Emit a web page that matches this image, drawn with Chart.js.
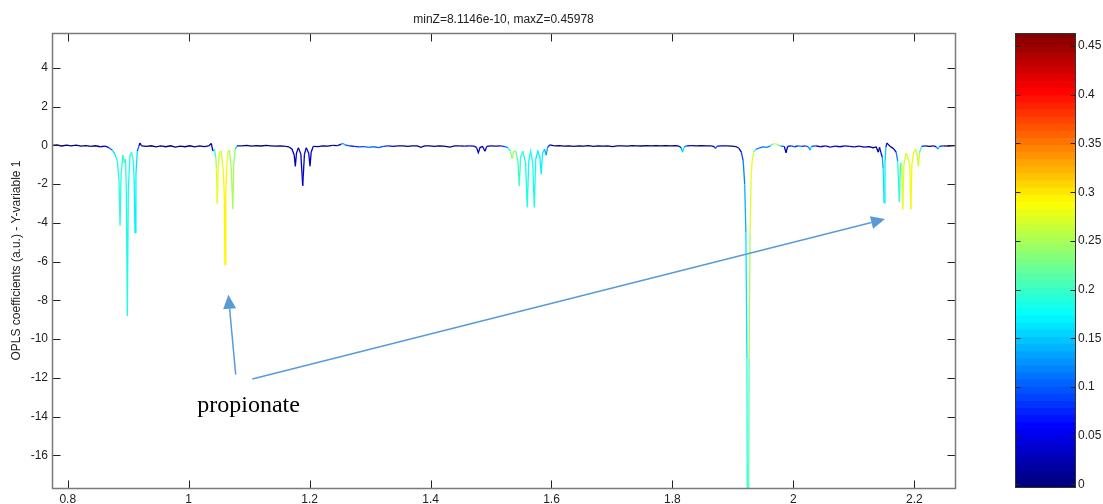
<!DOCTYPE html>
<html>
<head>
<meta charset="utf-8">
<script src="https://cdn.jsdelivr.net/npm/chart.js@4.4.1/dist/chart.umd.min.js"></script>
<style>
  html, body { margin: 0; padding: 0; background: #fff; }
  #wrap { position: relative; width: 1103px; height: 504px; overflow: hidden; }
  #main { position: absolute; left: 0; top: 0; }
  #cbar { position: absolute; left: 1007px; top: 0; }
</style>
</head>
<body>
<div id="wrap">
  <canvas id="main" width="1007" height="504"></canvas>
  <canvas id="cbar" width="96" height="504"></canvas>
</div>
<script>
// ======================================================
// Data
// ======================================================

// chemical shift (ppm)
const ppm = [
    0.774, 0.782, 0.790, 0.798, 0.806, 0.814, 0.822, 0.830, 0.838, 0.846, 0.854, 0.862, 0.868, 0.874, 0.878,
    0.882, 0.8848, 0.8865, 0.8882, 0.891, 0.8935, 0.8955, 0.897, 0.8986, 0.9002, 0.903, 0.9055, 0.908, 0.9098, 0.9113, 0.9128, 0.915, 0.9175, 0.9196, 0.922,
    0.930, 0.938, 0.946, 0.954, 0.962, 0.970, 0.978, 0.986, 0.994, 1.002, 1.010, 1.018, 1.026, 1.033, 1.0375,
    1.040, 1.0425, 1.0448, 1.046, 1.0474, 1.0488, 1.051, 1.0538, 1.0575, 1.0588, 1.0601, 1.0614, 1.0628, 1.065, 1.0675, 1.0705, 1.0729, 1.0745, 1.077, 1.080,
    1.088, 1.096, 1.104, 1.112, 1.120, 1.128, 1.136, 1.144, 1.152, 1.160, 1.166,
    1.171, 1.1745, 1.1764, 1.1783, 1.1815, 1.1855, 1.1886, 1.1915, 1.1945, 1.1985, 1.2007, 1.2026, 1.206,
    1.214, 1.222, 1.230, 1.238, 1.246, 1.2525, 1.2555, 1.259, 1.266, 1.274, 1.282, 1.290, 1.298, 1.306, 1.314, 1.322, 1.330, 1.338, 1.346,
    1.354, 1.362, 1.370, 1.378, 1.384, 1.390, 1.398, 1.406, 1.414, 1.422, 1.432, 1.440, 1.448, 1.456, 1.464, 1.472, 1.476, 1.479, 1.482, 1.486, 1.490, 1.493, 1.500, 1.508, 1.516, 1.523,
    1.528, 1.532, 1.5351, 1.5375, 1.541, 1.5445, 1.5467, 1.549, 1.5525, 1.5572, 1.5599, 1.5625, 1.5655, 1.569, 1.5715, 1.574, 1.5775, 1.5808, 1.583, 1.5852, 1.5885, 1.5913, 1.5935, 1.597,
    1.605, 1.613, 1.621, 1.629, 1.637, 1.645, 1.653, 1.661, 1.669, 1.677, 1.685, 1.693, 1.701, 1.709, 1.717, 1.725, 1.733, 1.741, 1.749, 1.757, 1.765, 1.773, 1.781, 1.789, 1.797, 1.805,
    1.811, 1.8145, 1.817, 1.8195, 1.824, 1.832, 1.840, 1.848, 1.856, 1.864, 1.869, 1.8714, 1.874, 1.882, 1.890, 1.898, 1.905,
    1.910, 1.914, 1.917, 1.9195, 1.9215, 1.9232, 1.925, 1.9268, 1.9285, 1.930, 1.9318, 1.9345,
    1.938, 1.944, 1.950, 1.956, 1.962, 1.966, 1.970, 1.974, 1.979, 1.985, 1.9879, 1.9905, 1.996, 2.002, 2.008, 2.014, 2.020, 2.025, 2.0276, 2.030,
    2.037, 2.045, 2.053, 2.061, 2.069, 2.077, 2.085, 2.093, 2.101, 2.109, 2.117, 2.125, 2.132, 2.137, 2.1405, 2.1425, 2.1445,
    2.147, 2.1485, 2.150, 2.1515, 2.153, 2.1545, 2.160, 2.166, 2.170, 2.1725, 2.1753, 2.1772, 2.1792, 2.1809, 2.1828, 2.186, 2.188, 2.1925, 2.1942, 2.196, 2.199, 2.202, 2.2048, 2.2068, 2.2088, 2.212,
    2.218, 2.225, 2.232, 2.2365, 2.2389, 2.2415, 2.248, 2.256, 2.2673
];

// OPLS coefficient
const coef = [
    0.00, 0.02, -0.03, 0.01, -0.02, 0.01, -0.04, -0.01, -0.05, -0.02, -0.07, -0.04, -0.12, -0.25, -0.45,
    -0.8, -1.8, -4.15, -1.6, -0.5, -0.9, -0.7, -2.4, -8.8, -2.3, -0.5, -0.35, -0.7, -1.7, -4.5, -1.5, -0.3, -0.05, 0.12, -0.02,
    -0.05, -0.02, -0.08, -0.03, -0.07, -0.02, -0.09, -0.04, -0.07, -0.02, -0.08, -0.03, -0.06, -0.03, 0.10,
    -0.3, -0.2, -0.6, -1.2, -3.0, -1.1, -0.35, -0.3, -1.4, -2.5, -6.15, -2.4, -1.2, -0.3, -0.25, -1.2, -3.3, -1.0, -0.2, -0.02,
    -0.03, 0.00, -0.04, -0.01, -0.03, 0.00, -0.02, -0.04, -0.02, -0.05, -0.08,
    -0.2, -0.5, -1.08, -0.4, -0.12, -0.45, -2.08, -0.45, -0.12, -0.4, -1.08, -0.35, -0.05,
    -0.06, -0.02, -0.04, 0.00, -0.01, 0.07, 0.10, 0.02, -0.03, -0.05, -0.08, -0.06, -0.10, -0.07, -0.11, -0.05, -0.03, -0.05, -0.02,
    -0.03, -0.05, -0.02, -0.03, -0.10, -0.02, -0.03, -0.05, -0.02, -0.04, -0.09, -0.03, -0.02, -0.04, -0.02, -0.04, -0.10, -0.38, -0.10, -0.06, -0.30, -0.05, -0.02, -0.04, -0.03, -0.06,
    -0.12, -0.3, -0.7, -0.3, -0.3, -0.8, -2.1, -0.6, -0.3, -0.9, -3.2, -0.8, -0.3, -0.9, -3.2, -0.7, -0.3, -0.6, -1.5, -0.4, -0.2, -0.5, -0.12, 0.03,
    -0.02, -0.01, -0.04, -0.02, -0.05, -0.02, -0.04, -0.01, -0.05, -0.02, -0.04, -0.02, -0.06, -0.03, -0.02, -0.04, -0.01, -0.02, -0.03, -0.01, -0.02, -0.01, -0.02, -0.01, -0.02, -0.01,
    -0.04, -0.12, -0.35, -0.08, -0.02, -0.01, -0.02, -0.01, -0.02, -0.03, -0.06, -0.15, -0.04, -0.02, -0.03, -0.04, -0.06,
    -0.15, -0.35, -0.8, -2.0, -4.5, -11, -32, -11, -4.5, -1.8, -0.8, -0.35,
    -0.2, -0.13, -0.08, -0.1, -0.02, 0.07, 0.09, 0.03, -0.04, -0.05, -0.38, -0.05, -0.02, -0.07, -0.03, -0.05, -0.02, -0.08, -0.25, -0.05,
    -0.03, -0.07, -0.03, -0.09, -0.04, -0.07, -0.02, -0.05, -0.08, -0.04, -0.09, -0.06, -0.12, -0.08, -0.35, -0.10, -0.35,
    -0.6, -1.2, -2.97, -0.9, -0.1, 0.12, -0.05, -0.18, -0.35, -0.8, -2.9, -0.9, -1.0, -3.3, -1.0, -0.4, -0.5, -1.0, -3.3, -1.0, -0.35, -0.2, -0.5, -1.08, -0.35, -0.05,
    -0.02, -0.05, -0.02, -0.08, -0.2, -0.05, -0.02, -0.04, -0.01
];

// correlation (Z, colour of the line)
const corr = [
    0.00, 0.00, 0.00, 0.00, 0.00, 0.00, 0.00, 0.00, 0.01, 0.01, 0.02, 0.04, 0.10, 0.15, 0.17,
    0.18, 0.19, 0.19, 0.19, 0.20, 0.21, 0.19, 0.18, 0.18, 0.18, 0.19, 0.20, 0.18, 0.17, 0.17, 0.16, 0.10, 0.04, 0.01, 0.00,
    0.00, 0.00, 0.00, 0.00, 0.00, 0.00, 0.00, 0.00, 0.00, 0.00, 0.00, 0.00, 0.00, 0.01, 0.02,
    0.14, 0.20, 0.25, 0.27, 0.28, 0.27, 0.26, 0.27, 0.29, 0.29, 0.29, 0.29, 0.28, 0.26, 0.25, 0.25, 0.25, 0.24, 0.15, 0.04,
    0.00, 0.00, 0.00, 0.00, 0.00, 0.00, 0.00, 0.00, 0.00, 0.01, 0.02,
    0.02, 0.03, 0.03, 0.03, 0.02, 0.03, 0.035, 0.03, 0.02, 0.03, 0.03, 0.02, 0.01,
    0.00, 0.00, 0.00, 0.01, 0.04, 0.12, 0.14, 0.10, 0.05, 0.07, 0.09, 0.10, 0.11, 0.10, 0.09, 0.08, 0.05, 0.02, 0.00,
    0.00, 0.00, 0.00, 0.00, 0.00, 0.00, 0.00, 0.00, 0.00, 0.00, 0.00, 0.00, 0.01, 0.03, 0.05, 0.03, 0.02, 0.02, 0.02, 0.02, 0.03, 0.02, 0.01, 0.03, 0.08, 0.12,
    0.18, 0.23, 0.25, 0.23, 0.21, 0.20, 0.20, 0.19, 0.18, 0.18, 0.18, 0.18, 0.18, 0.18, 0.18, 0.17, 0.17, 0.17, 0.17, 0.16, 0.14, 0.13, 0.08, 0.01,
    0.00, 0.00, 0.00, 0.00, 0.00, 0.00, 0.00, 0.00, 0.00, 0.00, 0.00, 0.00, 0.00, 0.00, 0.00, 0.00, 0.00, 0.00, 0.00, 0.00, 0.00, 0.00, 0.00, 0.00, 0.00, 0.00,
    0.05, 0.13, 0.17, 0.12, 0.04, 0.00, 0.00, 0.00, 0.00, 0.01, 0.06, 0.10, 0.05, 0.01, 0.00, 0.00, 0.01,
    0.04, 0.09, 0.12, 0.14, 0.16, 0.19, 0.21, 0.25, 0.27, 0.28, 0.27, 0.20,
    0.12, 0.10, 0.11, 0.12, 0.18, 0.26, 0.28, 0.20, 0.10, 0.03, 0.02, 0.04, 0.10, 0.07, 0.11, 0.07, 0.10, 0.12, 0.15, 0.09,
    0.04, 0.02, 0.03, 0.05, 0.03, 0.02, 0.04, 0.03, 0.01, 0.03, 0.01, 0.01, 0.01, 0.01, 0.02, 0.03, 0.05,
    0.13, 0.16, 0.17, 0.15, 0.07, 0.01, 0.01, 0.03, 0.12, 0.18, 0.20, 0.22, 0.26, 0.28, 0.27, 0.26, 0.27, 0.28, 0.29, 0.28, 0.27, 0.26, 0.26, 0.26, 0.20, 0.07,
    0.01, 0.01, 0.05, 0.12, 0.15, 0.07, 0.00, 0.00, 0.00
];

const xTicks = [0.8, 1, 1.2, 1.4, 1.6, 1.8, 2, 2.2];
const yTicks = [-16, -14, -12, -10, -8, -6, -4, -2, 0, 2, 4];
const zTicks = [0, 0.05, 0.1, 0.15, 0.2, 0.25, 0.3, 0.35, 0.4, 0.45];

const minZ = 8.1146e-10;
const maxZ = 0.45978;

// annotation (data coordinates)
const noteText = "propionate";
const notePos = [1.0143, -13.74];
const noteArrows = [
    [[1.0778, -11.83], [1.0656, -7.71]],
    [[1.1053, -12.06], [2.1516, -3.80]]
];


// ======================================================
// Jet colormap (64 levels)
// ======================================================

const nColors = 64;

function jet(t) {
    const c = v => Math.round(255 * Math.max(0, Math.min(1, v)));
    return "rgb(" + c(1.5 - Math.abs(4 * t - 3)) + "," +
        c(1.5 - Math.abs(4 * t - 2)) + "," +
        c(1.5 - Math.abs(4 * t - 1)) + ")";
}

function colorFor(z) {
    let i = Math.round(z / maxZ * (nColors - 1));
    i = Math.max(0, Math.min(nColors - 1, i));
    return jet(i / (nColors - 1));
}


Chart.defaults.font.family = '"Liberation Sans", Arial, sans-serif';
Chart.defaults.font.size = 12;
Chart.defaults.color = "#222";


// ======================================================
// Frame + inward ticks (MATLAB style)
// ======================================================

const framePlugin = {
    id: "frame",
    afterDraw(chart) {
        const { ctx, chartArea: a } = chart;
        const x = chart.scales.x;
        const y = chart.scales.y;
        const L = Math.round(a.left) + 0.5, R = Math.round(a.right) + 0.5;
        const T = Math.round(a.top) + 0.5, B = Math.round(a.bottom) + 0.5;
        const tl = 8;

        ctx.save();
        ctx.strokeStyle = "#222";
        ctx.lineWidth = 1;
        ctx.beginPath();
        xTicks.forEach(v => {
            const px = Math.round(x.getPixelForValue(v)) + 0.5;
            ctx.moveTo(px, B); ctx.lineTo(px, B - tl);
            ctx.moveTo(px, T); ctx.lineTo(px, T + tl);
        });
        yTicks.forEach(v => {
            const py = Math.round(y.getPixelForValue(v)) + 0.5;
            ctx.moveTo(L, py); ctx.lineTo(L + tl, py);
            ctx.moveTo(R, py); ctx.lineTo(R - tl, py);
        });
        ctx.stroke();

        ctx.strokeStyle = "#7a7a7a";
        ctx.lineWidth = 1.5;
        ctx.strokeRect(L, T, R - L, B - T);
        ctx.restore();
    }
};


// ======================================================
// Annotation (arrows + label)
// ======================================================

const notePlugin = {
    id: "note",
    afterDraw(chart) {
        const { ctx } = chart;
        const x = chart.scales.x;
        const y = chart.scales.y;
        const px = p => [x.getPixelForValue(p[0]), y.getPixelForValue(p[1])];

        ctx.save();
        ctx.strokeStyle = "#5b9bd5";
        ctx.fillStyle = "#5b9bd5";
        ctx.lineWidth = 1.5;

        noteArrows.forEach(arrow => {
            const [x0, y0] = px(arrow[0]);
            const [x1, y1] = px(arrow[1]);
            const ang = Math.atan2(y1 - y0, x1 - x0);
            const len = 14, half = 6.5;
            const bx = x1 - len * Math.cos(ang), by = y1 - len * Math.sin(ang);

            ctx.beginPath();
            ctx.moveTo(x0, y0);
            ctx.lineTo(bx, by);
            ctx.stroke();

            ctx.beginPath();
            ctx.moveTo(x1, y1);
            ctx.lineTo(bx + half * Math.sin(ang), by - half * Math.cos(ang));
            ctx.lineTo(bx - half * Math.sin(ang), by + half * Math.cos(ang));
            ctx.closePath();
            ctx.fill();
        });

        const [tx, ty] = px(notePos);
        ctx.fillStyle = "#000";
        ctx.font = '24px "Liberation Serif", "Times New Roman", serif';
        ctx.textAlign = "left";
        ctx.textBaseline = "alphabetic";
        ctx.fillText(noteText, tx, ty);
        ctx.restore();
    }
};


// ======================================================
// Main spectrum chart
// ======================================================

const points = ppm.map((v, i) => ({ x: v, y: coef[i] }));

new Chart(document.getElementById("main"), {
    type: "line",
    data: {
        datasets: [
            {
                data: points,
                borderColor: colorFor(0),
                borderWidth: 1.3,
                pointRadius: 0,
                tension: 0,
                segment: {
                    borderColor: c => colorFor(corr[c.p0DataIndex])
                }
            }
        ]
    },
    options: {
        responsive: false,
        animation: false,
        devicePixelRatio: 1,
        layout: {
            padding: 0
        },
        plugins: {
            legend: { display: false },
            tooltip: { enabled: false },
            title: {
                display: true,
                text: "minZ=" + minZ.toExponential(4) + ", maxZ=" + maxZ,
                font: { size: 12, weight: "normal" },
                color: "#222",
                padding: { top: 12, bottom: 6.6 }
            }
        },
        scales: {
            x: {
                type: "linear",
                min: 0.774,
                max: 2.2673,
                grid: { display: false, drawTicks: false },
                border: { display: false },
                ticks: {
                    padding: 4,
                    maxRotation: 0,
                    autoSkip: false,
                    callback: v => String(v)
                },
                afterBuildTicks: s => { s.ticks = xTicks.map(v => ({ value: v })); },
                afterFit: s => { s.height = 16; }
            },
            y: {
                type: "linear",
                min: -17.68,
                max: 5.80,
                grid: { display: false, drawTicks: false },
                border: { display: false },
                title: {
                    display: true,
                    text: "OPLS coefficients (a.u.) - Y-variable 1",
                    font: { size: 12 },
                    color: "#222",
                    padding: { top: 9, bottom: 0 }
                },
                ticks: {
                    padding: 4,
                    autoSkip: false,
                    callback: v => String(v)
                },
                afterBuildTicks: s => { s.ticks = yTicks.map(v => ({ value: v })); },
                afterFit: s => { s.width = 52; }
            },
            // empty right-hand strip, keeps the title centred over the plot
            yRight: {
                type: "linear",
                position: "right",
                min: -17.68,
                max: 5.80,
                grid: { display: false, drawTicks: false },
                border: { display: false },
                ticks: { display: false },
                afterFit: s => { s.width = 52; }
            }
        }
    },
    plugins: [framePlugin, notePlugin]
});


// ======================================================
// Colorbar
// ======================================================

const zStep = maxZ / (nColors - 1);
const levels = Array.from({ length: nColors }, (_, i) => i);

const cbarFrame = {
    id: "cbarFrame",
    afterDraw(chart) {
        const { ctx, chartArea: a } = chart;
        const y = chart.scales.y;
        const L = Math.round(a.left) + 0.5, R = Math.round(a.right) - 0.5;
        const T = Math.round(a.top) + 0.5, B = Math.round(a.bottom) - 0.5;

        ctx.save();
        ctx.strokeStyle = "#222";
        ctx.lineWidth = 1;
        ctx.beginPath();
        zTicks.forEach(v => {
            const py = Math.round(y.getPixelForValue(v)) + 0.5;
            ctx.moveTo(L, py); ctx.lineTo(L + 5, py);
            ctx.moveTo(R, py); ctx.lineTo(R - 5, py);
        });
        ctx.stroke();
        ctx.strokeStyle = "#333";
        ctx.strokeRect(L, T, R - L, B - T);
        ctx.restore();
    }
};

new Chart(document.getElementById("cbar"), {
    type: "bar",
    data: {
        labels: [""],
        datasets: levels.map(i => ({
            data: [[(i - 0.5) * zStep, (i + 0.7) * zStep]],
            backgroundColor: jet(i / (nColors - 1)),
            borderWidth: 0,
            grouped: false,
            barPercentage: 1,
            categoryPercentage: 1
        }))
    },
    options: {
        responsive: false,
        animation: false,
        devicePixelRatio: 1,
        layout: {
            padding: { left: 8, right: 0, top: 33, bottom: 16 }
        },
        plugins: {
            legend: { display: false },
            tooltip: { enabled: false }
        },
        scales: {
            x: { display: false },
            y: {
                position: "right",
                min: -0.5 * zStep,
                max: (nColors - 0.5) * zStep,
                grid: { display: false, drawTicks: false },
                border: { display: false },
                ticks: {
                    padding: 2,
                    autoSkip: false,
                    callback: v => String(v)
                },
                afterBuildTicks: s => { s.ticks = zTicks.map(v => ({ value: v })); },
                afterFit: s => { s.width = 27; }
            }
        }
    },
    plugins: [cbarFrame]
});
</script>
</body>
</html>
